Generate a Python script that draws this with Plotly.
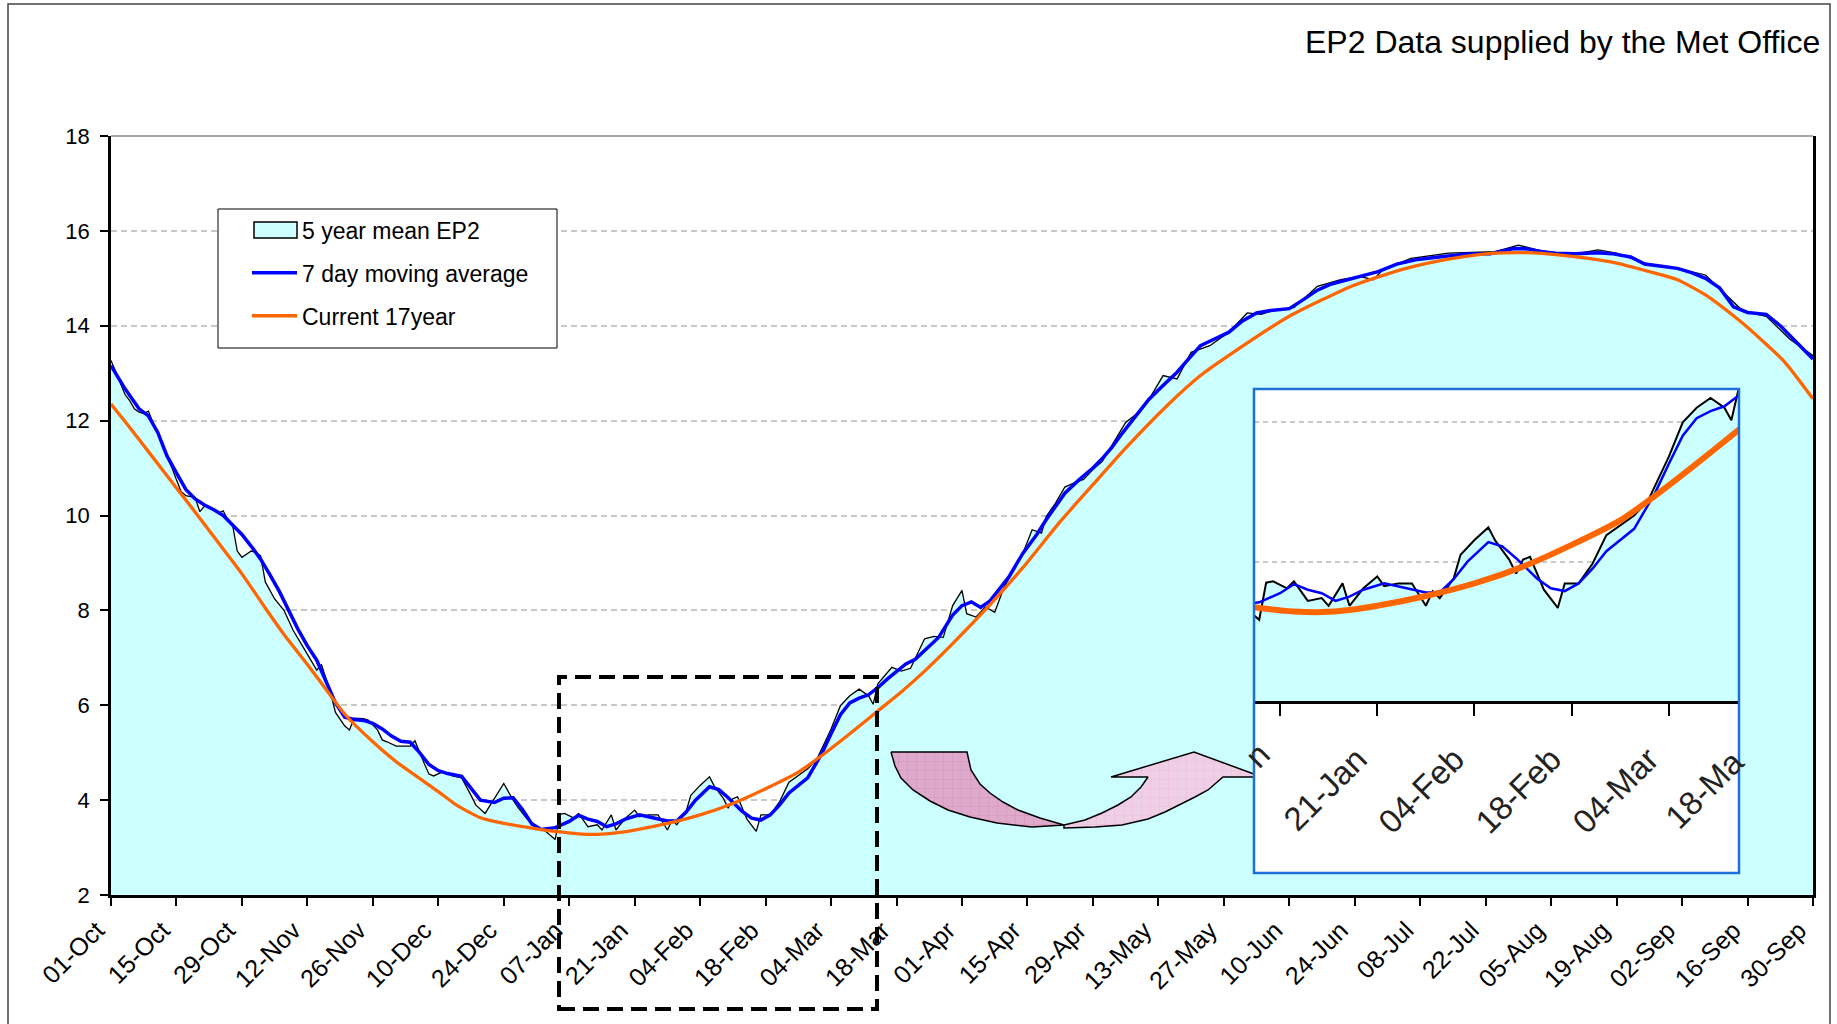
import pandas as pd
import plotly.graph_objects as go

# ------------------------------------------------------------------ data
START = pd.Timestamp("2006-10-01")          # day 0 of the water year shown

# 5 year mean EP2 (day offset from 01-Oct, value)
mean_days = [0, 2, 3, 4, 5, 6, 7, 8, 9, 10, 11, 13, 15, 16, 18, 19, 20, 21, 23, 24,
             25, 26, 27, 28, 30, 31, 32, 33, 35, 37, 39, 41, 43, 44, 45, 47, 48, 50, 51, 52,
             54, 55, 57, 58, 59, 61, 64, 65, 67, 68, 69, 71, 73, 75, 77, 78, 80, 82, 84, 86,
             87, 89, 91, 93, 95, 96, 97, 99, 100, 101, 102, 104, 105, 107, 108, 110, 112, 113, 115, 117,
             119, 120, 121, 123, 124, 126, 128, 129, 131, 132, 133, 134, 136, 138, 139, 141, 143, 145, 147, 149,
             151, 154, 156, 158, 160, 162, 163, 164, 167, 169, 171, 174, 176, 178, 180, 182, 183, 185, 187, 189,
             191, 193, 195, 197, 199, 200, 202, 204, 206, 208, 210, 212, 214, 217, 220, 222, 225, 228, 231, 235,
             239, 243, 246, 249, 253, 258, 263, 267, 270, 272, 278, 286, 296, 301, 305, 309, 314, 318, 322, 328,
             335, 341, 345, 349, 354, 359, 364]
mean_vals = [13.27, 12.8, 12.55, 12.42, 12.25, 12.18, 12.15, 12.2, 11.95, 11.75, 11.45, 11.01, 10.5, 10.42, 10.38, 10.08, 10.2, 10.17, 10.05, 10.1,
             9.9, 9.8, 9.25, 9.12, 9.25, 9.22, 9.15, 8.6, 8.24, 8.0, 7.57, 7.24, 6.9, 6.74, 6.86, 6.25, 5.85, 5.56, 5.48, 5.73,
             5.72, 5.69, 5.48, 5.27, 5.23, 5.14, 5.14, 5.25, 4.77, 4.55, 4.51, 4.6, 4.51, 4.47, 4.1, 3.9, 3.72, 4.05, 4.35, 4.0,
             3.85, 3.6, 3.44, 3.34, 3.17, 3.7, 3.72, 3.62, 3.72, 3.58, 3.44, 3.48, 3.37, 3.69, 3.37, 3.62, 3.79, 3.65, 3.69, 3.69,
             3.37, 3.58, 3.48, 3.76, 4.1, 4.31, 4.49, 4.3, 4.03, 3.83, 4.03, 4.07, 3.6, 3.34, 3.69, 3.69, 3.97, 4.38, 4.52, 4.66,
             4.87, 5.5, 5.99, 6.2, 6.34, 6.2, 6.02, 6.45, 6.8, 6.72, 6.78, 7.4, 7.45, 7.43, 8.1, 8.42, 7.93, 7.86, 8.07, 7.96,
             8.49, 8.85, 9.2, 9.7, 9.63, 9.98, 10.26, 10.6, 10.69, 10.76, 10.97, 11.14, 11.46, 11.96, 12.19, 12.45, 12.95, 12.88, 13.44, 13.58,
             13.86, 14.27, 14.24, 14.34, 14.38, 14.83, 14.97, 15.04, 14.97, 15.18, 15.42, 15.53, 15.56, 15.7, 15.6, 15.53, 15.53, 15.6, 15.53, 15.32,
             15.21, 15.07, 14.69, 14.31, 14.2, 13.72, 13.37]

# 7 day moving average
ma_days = [0, 3, 6, 8, 10, 12, 14, 16, 18, 20, 22, 24, 26, 28, 30, 32, 34, 36, 38, 40,
           42, 44, 46, 48, 50, 52, 54, 56, 58, 60, 62, 64, 66, 68, 70, 72, 75, 77, 79, 82,
           84, 86, 88, 90, 92, 95, 98, 100, 102, 104, 106, 108, 110, 113, 116, 119, 121, 123, 125, 128,
           130, 132, 135, 137, 139, 141, 143, 145, 149, 152, 154, 156, 158, 160, 162, 164, 166, 168, 170, 172,
           174, 177, 180, 182, 184, 186, 188, 190, 192, 195, 198, 200, 202, 204, 207, 210, 212, 214, 216, 218,
           220, 222, 225, 228, 230, 233, 236, 239, 242, 245, 248, 252, 255, 258, 261, 265, 268, 271, 275, 279,
           284, 290, 295, 298, 300, 303, 306, 309, 313, 318, 321, 325, 328, 332, 335, 338, 341, 344, 347, 350,
           354, 357, 360, 364]
ma_vals = [13.16, 12.67, 12.25, 12.1, 11.75, 11.25, 10.9, 10.55, 10.35, 10.22, 10.12, 10.0, 9.8, 9.6, 9.35, 9.08, 8.75, 8.4, 8.0, 7.6,
           7.25, 6.95, 6.5, 6.05, 5.75, 5.7, 5.68, 5.62, 5.5, 5.35, 5.24, 5.22, 5.0, 4.75, 4.62, 4.56, 4.5, 4.25, 4.0, 3.95,
           4.04, 4.05, 3.8, 3.5, 3.38, 3.42, 3.55, 3.68, 3.6, 3.55, 3.44, 3.5, 3.6, 3.69, 3.62, 3.56, 3.56, 3.75, 4.0, 4.28,
           4.22, 4.05, 3.76, 3.62, 3.58, 3.69, 3.9, 4.15, 4.47, 4.98, 5.4, 5.8, 6.05, 6.15, 6.22, 6.37, 6.55, 6.72, 6.87, 6.97,
           7.15, 7.43, 7.9, 8.1, 8.18, 8.06, 8.2, 8.45, 8.7, 9.2, 9.6, 9.91, 10.2, 10.47, 10.75, 11.0, 11.2, 11.43, 11.7, 11.96,
           12.2, 12.45, 12.74, 13.02, 13.25, 13.58, 13.72, 13.86, 14.1, 14.27, 14.32, 14.36, 14.55, 14.75, 14.88, 14.98, 15.05, 15.14, 15.3, 15.39,
           15.45, 15.51, 15.52, 15.58, 15.63, 15.62, 15.56, 15.53, 15.52, 15.54, 15.52, 15.45, 15.3, 15.25, 15.21, 15.12, 15.0, 14.8, 14.4, 14.28,
           14.24, 14.0, 13.7, 13.3]

# Current 17 year
cur_days = [0, 3, 9, 14, 17, 22, 28, 33, 37, 42, 47, 50, 56, 61, 70, 74, 79, 84, 90, 95,
            100, 104, 108, 112, 119, 126, 133, 140, 147, 152, 158, 164, 169, 174, 180, 188, 195, 203, 210, 217,
            226, 233, 239, 252, 266, 277, 287, 296, 303, 309, 316, 322, 329, 335, 341, 348, 353, 358, 364]
cur_vals = [12.35, 11.98, 11.22, 10.58, 10.2, 9.55, 8.77, 8.05, 7.49, 6.86, 6.2, 5.81, 5.23, 4.81, 4.18, 3.89, 3.63, 3.51, 3.41, 3.34,
            3.29, 3.28, 3.31, 3.37, 3.51, 3.69, 3.93, 4.24, 4.59, 4.94, 5.4, 5.88, 6.28, 6.72, 7.3, 8.12, 8.9, 9.87, 10.65, 11.42,
            12.33, 12.95, 13.37, 14.2, 14.86, 15.21, 15.42, 15.53, 15.54, 15.5, 15.42, 15.32, 15.14, 14.97, 14.65, 14.13, 13.7, 13.23, 12.46]

# axis settings
y_range = [2, 18]
y_dtick = 2
tick_step_days = 14
year_end_day = 364
inset_range_days = [94.25, 164.1]
inset_y_range = [-0.447, 6.467]
inset_grid_vals = [4, 6]
inset_tick_days = [98, 112, 126, 140, 154]
inset_tick_text = ["", "21-Jan", "04-Feb", "18-Feb", "04-Mar"]

series_names = ["5 year mean EP2", "7 day moving average", "Current 17year"]
title_text = "EP2 Data supplied by the Met Office"


def to_dates(days):
    return [START + pd.Timedelta(days=d) for d in days]


# ------------------------------------------------------------------ layout helpers (pixels -> paper)
W, H = 1837, 1024
L, R, T, B = 111, 1813, 136, 895


def px(x):
    return (x - L) / (R - L)


def py(y):
    return (B - y) / (B - T)


FONT = "Liberation Sans, Arial, sans-serif"
CYAN = "#CCFFFF"
BLUE = "#0000FF"
ORANGE = "#FF6600"

fig = go.Figure()

# legend entry for the area series (its box symbol is drawn as a shape below)
fig.add_trace(go.Scatter(x=[None], y=[None], name=series_names[0], mode="lines",
                         line=dict(width=0, color=CYAN), legendgroup="a", hoverinfo="skip"))

# ---------------- main chart
fig.add_trace(go.Scatter(x=to_dates(mean_days), y=mean_vals, name=series_names[0],
                         mode="lines", line=dict(color="black", width=1.3),
                         fill="tozeroy", fillcolor=CYAN, legendgroup="a", showlegend=False))
fig.add_trace(go.Scatter(x=to_dates(ma_days), y=ma_vals, name=series_names[1],
                         mode="lines", line=dict(color=BLUE, width=3.5), legendgroup="b"))
fig.add_trace(go.Scatter(x=to_dates(cur_days), y=cur_vals, name=series_names[2],
                         mode="lines", line=dict(color=ORANGE, width=3.3, shape="spline", smoothing=0.6),
                         legendgroup="c"))

# ---------------- inset (zoom of Jan - Mar)
fig.add_trace(go.Scatter(x=to_dates([inset_range_days[0] - 5, inset_range_days[1] + 5]), y=[y_range[0]] * 2,
                         mode="lines", line=dict(width=0, color=CYAN), showlegend=False,
                         xaxis="x2", yaxis="y2", hoverinfo="skip"))
fig.add_trace(go.Scatter(x=to_dates(mean_days), y=mean_vals, mode="lines",
                         line=dict(color="black", width=2), fill="tonexty", fillcolor=CYAN,
                         showlegend=False, xaxis="x2", yaxis="y2"))
fig.add_trace(go.Scatter(x=to_dates(ma_days), y=ma_vals, mode="lines",
                         line=dict(color=BLUE, width=2.5), showlegend=False, xaxis="x2", yaxis="y2"))
fig.add_trace(go.Scatter(x=to_dates(cur_days), y=cur_vals, mode="lines",
                         line=dict(color=ORANGE, width=6, shape="spline", smoothing=0.6),
                         showlegend=False, xaxis="x2", yaxis="y2"))

# ---------------- curved arrow (decoration, pixel coordinates on a hidden overlay axis)
arrow_left = [(891, 752), (967, 752), (971, 770), (980, 784), (990, 793), (1003, 802), (1018, 810),
              (1040, 818), (1064, 825), (1032, 827), (997, 823), (970, 817), (948, 810), (930, 801),
              (913, 790), (901, 778), (895, 766), (891, 752)]
arrow_right = [(1064, 825), (1085, 820), (1102, 813), (1118, 805), (1131, 797), (1141, 787), (1148, 777),
               (1111, 777), (1194, 752), (1262, 777), (1223, 777), (1215, 784), (1208, 790), (1195, 797),
               (1183, 803), (1165, 812), (1148, 819), (1122, 825), (1095, 827), (1064, 828), (1064, 825)]
for pts, bg, fg in [(arrow_left, "#DFA9CB", "#CF7DAF"), (arrow_right, "#EFCFE5", "#F2A9D8")]:
    fig.add_trace(go.Scatter(x=[p[0] for p in pts], y=[p[1] for p in pts], mode="lines",
                             line=dict(color="black", width=1.5), fill="toself", fillcolor=bg,
                             fillpattern=dict(shape="+", fgcolor=fg, bgcolor=bg, size=9, solidity=0.12),
                             showlegend=False, xaxis="x3", yaxis="y3", hoverinfo="skip"))

# ---------------- axes
fig.update_layout(
    width=W, height=H,
    margin=dict(l=L, r=W - R, t=T, b=H - B),
    paper_bgcolor="white", plot_bgcolor="white",
    font=dict(family=FONT, color="black"),
    xaxis=dict(type="date", range=[START, START + pd.Timedelta(days=year_end_day)],
               tick0=START, dtick=tick_step_days * 86400000, tickformat="%d-%b", tickangle=-45,
               ticks="outside", ticklen=8, tickcolor="black", tickwidth=1.5,
               showline=True, linecolor="black", linewidth=2.5, showgrid=False,
               tickfont=dict(family=FONT, size=25, color="black"), ticklabelshift=-14,
               zeroline=False),
    yaxis=dict(range=y_range, dtick=y_dtick, ticks="outside", ticklen=8, tickcolor="black",
               tickwidth=1.5, showline=True, linecolor="black", linewidth=2.5, mirror=True,
               showgrid=True, gridcolor="#C8C8C8", gridwidth=1.5, griddash="6px,4px",
               tickfont=dict(family=FONT, size=22, color="black"), ticklabelstandoff=6,
               zeroline=False),
    xaxis2=dict(type="date", domain=[px(1254), px(1739)],
                range=[START + pd.Timedelta(days=inset_range_days[0]),
                       START + pd.Timedelta(days=inset_range_days[1])],
                anchor="free", position=py(701.7),
                tickvals=to_dates(inset_tick_days), ticktext=inset_tick_text, tickangle=-45,
                ticks="outside", ticklen=12, tickwidth=2, tickcolor="black",
                showline=True, linecolor="black", linewidth=3, showgrid=False,
                tickfont=dict(family=FONT, size=33, color="#222222"),
                ticklabelstandoff=11, ticklabelshift=-20, zeroline=False),
    yaxis2=dict(domain=[py(873), py(389)], range=inset_y_range, anchor="x2",
                tickvals=inset_grid_vals, showticklabels=False, ticks="",
                showgrid=True, gridcolor="#C8C8C8", gridwidth=1.5, griddash="5px,4px",
                showline=False, zeroline=False),
    xaxis3=dict(overlaying="x", range=[L, R], visible=False),
    yaxis3=dict(overlaying="y", range=[B, T], visible=False),
    legend=dict(x=px(247), y=py(208.5), xanchor="left", yanchor="top",
                bgcolor="rgba(0,0,0,0)", borderwidth=0,
                font=dict(family=FONT, size=23, color="black"),
                itemwidth=45, tracegroupgap=10, traceorder="grouped"),
    showlegend=True,
)

# ---------------- decorations
shapes = [
    # outer frame of the picture
    dict(type="rect", xref="paper", yref="paper", x0=px(8), x1=px(1830), y0=py(1040), y1=py(4),
         line=dict(color="#444444", width=1.5), layer="above"),
    # light top border of the plot area
    dict(type="line", xref="paper", yref="paper", x0=0, x1=1, y0=1, y1=1,
         line=dict(color="#8A8A8A", width=1.5), layer="above"),
    # legend box
    dict(type="rect", xref="paper", yref="paper", x0=px(218), x1=px(557), y0=py(348), y1=py(209),
         line=dict(color="black", width=1), fillcolor="white", layer="above"),
    # legend symbol of the area series
    dict(type="rect", xref="paper", yref="paper", x0=px(254), x1=px(297), y0=py(238), y1=py(222),
         line=dict(color="black", width=1.5), fillcolor=CYAN, layer="above"),
    # dashed zoom window
    dict(type="rect", xref="paper", yref="paper", x0=px(559), x1=px(877), y0=py(1009), y1=py(677),
         line=dict(color="black", width=4, dash="16px,8px"), layer="above"),
    # inset frame
    dict(type="rect", xref="paper", yref="paper", x0=px(1254), x1=px(1739), y0=py(873), y1=py(389),
         line=dict(color="#1E6FD9", width=2.5), layer="above"),
]
fig.update_layout(shapes=shapes)

fig.update_layout(annotations=[
    dict(text=title_text, xref="paper", yref="paper", x=px(1822), y=py(42),
         xanchor="right", yanchor="middle", showarrow=False,
         font=dict(family=FONT, size=32, color="black")),
    dict(text="18-Ma", xref="paper", yref="paper", x=px(1704), y=py(789),
         xanchor="center", yanchor="middle", textangle=-45, showarrow=False,
         font=dict(family=FONT, size=33, color="#222222")),
    dict(text="n", xref="paper", yref="paper", x=px(1257), y=py(755),
         xanchor="center", yanchor="middle", textangle=-45, showarrow=False,
         font=dict(family=FONT, size=33, color="#222222")),
])

fig.write_html("out.html", config={"displayModeBar": False},
               post_script="document.body.style.margin='0px';")
